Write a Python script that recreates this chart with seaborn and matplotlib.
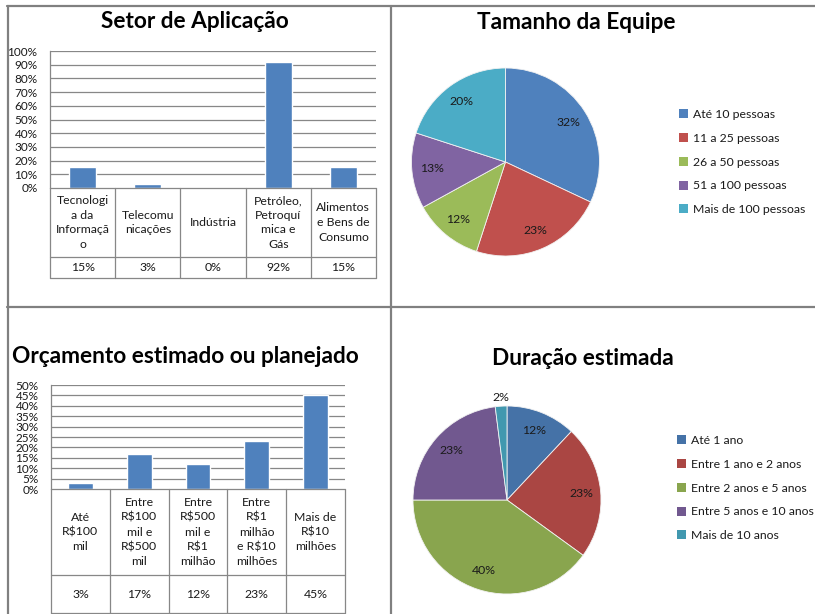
import numpy as np
import pandas as pd
import matplotlib.pyplot as plt
import seaborn as sns
from matplotlib.lines import Line2D
from matplotlib.patches import Patch

# data
setor_labels = ["Tecnologi\na da\nInformaçã\no", "Telecomu\nnicações", "Indústria",
                "Petróleo,\nPetroquí\nmica e\nGás", "Alimentos\ne Bens de\nConsumo"]
setor_values = [15, 3, 0, 92, 15]

equipe_labels = ["Até 10 pessoas", "11 a 25 pessoas", "26 a 50 pessoas",
                 "51 a 100 pessoas", "Mais de 100 pessoas"]
equipe_values = [32, 23, 12, 13, 20]

orcamento_labels = ["Até\nR$100\nmil", "Entre\nR$100\nmil e\nR$500\nmil",
                    "Entre\nR$500\nmil e\nR$1\nmilhão", "Entre\nR$1\nmilhão\ne R$10\nmilhões",
                    "Mais de\nR$10\nmilhões"]
orcamento_values = [3, 17, 12, 23, 45]

duracao_labels = ["Até 1 ano", "Entre 1 ano e 2 anos", "Entre 2 anos e 5 anos",
                  "Entre 5 anos e 10 anos", "Mais de 10 anos"]
duracao_values = [12, 23, 40, 23, 2]

sns.set_theme(style="white")
plt.rcParams['font.family'] = ['Lato', 'DejaVu Sans']
plt.rcParams['text.parse_math'] = False

W, H = 815, 614
fig = plt.figure(figsize=(W / 100, H / 100), dpi=100)

BAR_BLUE = "#4F81BD"
GRID = "#878787"
TXT = "#1a1a1a"
pal_top = ["#4F81BD", "#C0504D", "#9BBB59", "#8064A2", "#4BACC6"]
pal_bot = ["#4572A7", "#AA4643", "#89A54E", "#71588F", "#4198AF"]


def px_rect(x0, y0, x1, y1):
    return [x0 / W, 1 - y1 / H, (x1 - x0) / W, (y1 - y0) / H]


# panel frame
frame_kw = dict(color="#808080", lw=1.6, transform=fig.transFigure)
fig.add_artist(Line2D([7 / W, 1], [1 - 5.5 / H] * 2, **frame_kw))
fig.add_artist(Line2D([7 / W, 1], [1 - 306.5 / H] * 2, **frame_kw))
fig.add_artist(Line2D([7.5 / W] * 2, [0, 1 - 5.5 / H], **frame_kw))
fig.add_artist(Line2D([390.5 / W] * 2, [0, 1 - 5.5 / H], **frame_kw))


def bar_table(box, row1, row2, labels, values, ymax, step, fs_tick):
    x0, y0, x1, y1 = box
    ax = fig.add_axes(px_rect(x0, y0, x1, y1))
    df = pd.DataFrame({"cat": range(len(labels)), "val": values})
    sns.barplot(data=df, x="cat", y="val", color=BAR_BLUE, saturation=1,
                width=0.42, ax=ax, zorder=3)
    ax.set_xlim(-0.5, len(labels) - 0.5)
    ax.set_ylim(0, ymax)
    ticks = np.arange(0, ymax + 0.1, step)
    ax.set_yticks(ticks)
    ax.set_yticklabels([f"{int(t)}%" for t in ticks], fontsize=fs_tick, color=TXT)
    ax.tick_params(axis="y", pad=9, length=0)
    ax.set_xticks([])
    ax.set_xlabel("")
    ax.set_ylabel("")
    for t in ticks[1:]:
        ax.axhline(t, color=GRID, lw=0.9, zorder=1)
    for s in ["top", "right", "bottom"]:
        ax.spines[s].set_visible(False)
    ax.spines["left"].set_color(GRID)
    ax.spines["left"].set_linewidth(0.9)

    # data table under the bars
    tab = fig.add_axes(px_rect(x0, y1, x1, y1 + row1 + row2))
    tab.set_xlim(-0.5, len(labels) - 0.5)
    tab.set_ylim(row1 + row2, 0)
    tab.axis("off")
    n = len(labels)
    for yy in [0, row1, row1 + row2]:
        tab.plot([-0.5, n - 0.5], [yy, yy], color=GRID, lw=0.9, clip_on=False)
    for i in range(n + 1):
        tab.plot([i - 0.5, i - 0.5], [0, row1 + row2], color=GRID, lw=0.9, clip_on=False)
    for i, (lab, v) in enumerate(zip(labels, values)):
        tab.text(i, row1 / 2, lab, ha="center", va="center", fontsize=8.8,
                 color=TXT, linespacing=1.4)
        tab.text(i, row1 + row2 / 2, f"{v}%", ha="center", va="center",
                 fontsize=8.8, color=TXT)
    return ax


def pie_panel(cx, cy, r, values, labels, colors, leg_x, leg_y):
    ax = fig.add_axes(px_rect(cx - r, cy - r, cx + r, cy + r))
    wedges, _ = ax.pie(values, colors=colors, startangle=90, counterclock=False,
                       radius=1, wedgeprops=dict(edgecolor="#f2f2f2", linewidth=0.6))
    ax.set_xlim(-1, 1)
    ax.set_ylim(-1, 1)
    for w, v in zip(wedges, values):
        mid = np.deg2rad((w.theta1 + w.theta2) / 2)
        d = 0.79 if v >= 5 else 1.09
        ax.text(d * np.cos(mid), d * np.sin(mid), f"{v}%", ha="center",
                va="center", fontsize=8.8, color=TXT, clip_on=False)
    handles = [Patch(facecolor=c, edgecolor="none") for c in colors]
    fig.legend(handles, labels, loc="center left",
               bbox_to_anchor=(leg_x / W, 1 - leg_y / H), frameon=False,
               fontsize=8.8, handlelength=0.75, handleheight=0.75,
               handletextpad=0.4, labelspacing=1.05, borderpad=0, borderaxespad=0,
               labelcolor=TXT)
    return ax


# Setor de Aplicação
bar_table((50, 51, 376, 188), 69, 21, setor_labels, setor_values, 100, 10, 8.5)
fig.text(194.5 / W, 1 - 28 / H, "Setor de Aplicação", ha="center", va="baseline",
         fontsize=16.3, fontweight="bold", color="black")

# Tamanho da Equipe
pie_panel(505.5, 162, 94, equipe_values, equipe_labels, pal_top, 679, 162)
fig.text(576.5 / W, 1 - 29 / H, "Tamanho da Equipe", ha="center", va="baseline",
         fontsize=16.3, fontweight="bold", color="black")

# Orçamento estimado ou planejado
bar_table((51, 385, 345, 489), 86, 38, orcamento_labels, orcamento_values, 50, 5, 8.5)
fig.text(185 / W, 1 - 363 / H, "Orçamento estimado ou planejado", ha="center",
         va="baseline", fontsize=16.3, fontweight="bold", color="black")

# Duração estimada
pie_panel(507, 500, 94, duracao_values, duracao_labels, pal_bot, 677, 488)
fig.text(583 / W, 1 - 365 / H, "Duração estimada", ha="center", va="baseline",
         fontsize=16.3, fontweight="bold", color="black")

fig.savefig("out.png", dpi=100)
